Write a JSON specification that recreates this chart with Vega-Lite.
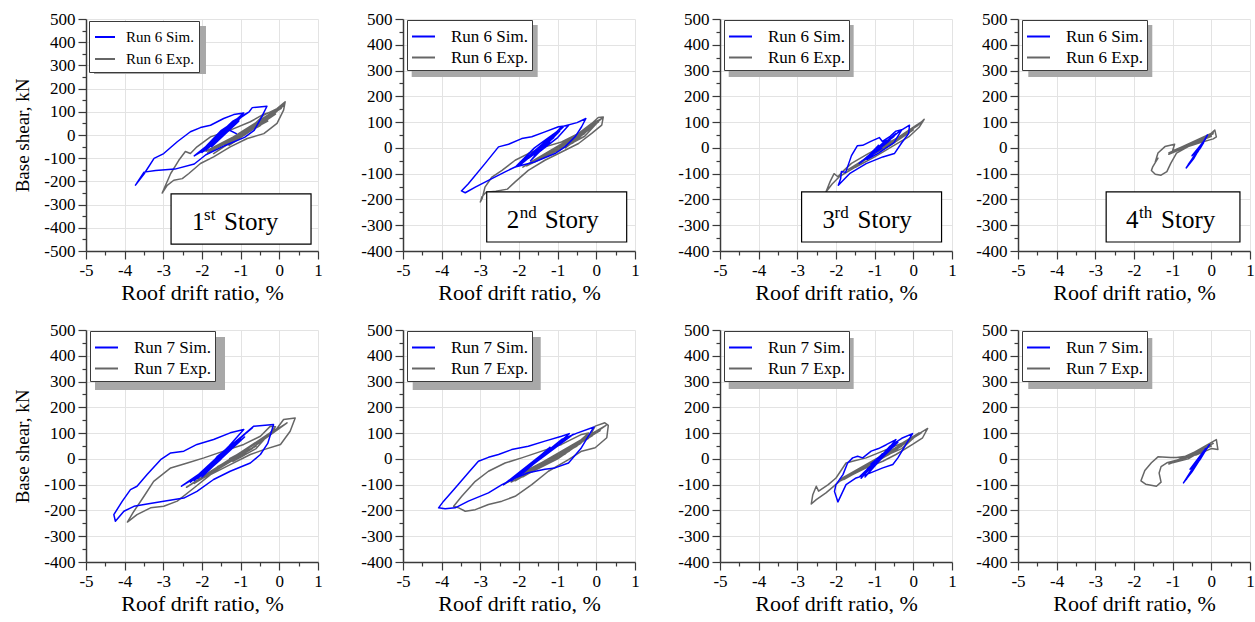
{
  "$schema": "https://vega.github.io/schema/vega-lite/v6.json",
  "background": "white",
  "padding": {"left": 13, "top": 10, "right": 0, "bottom": 0},
  "config": {
    "view": {"stroke": null},
    "font": "Liberation Serif",
    "axis": {"domainColor": "#3a3a3a", "domainWidth": 1.5, "tickColor": "#3a3a3a", "tickWidth": 1.2, "labelFont": "Liberation Serif", "labelFontSize": 17, "labelColor": "#000", "labelPadding": 3, "labelOverlap": false, "titleFont": "Liberation Serif", "titleFontSize": 22, "titleFontWeight": "normal", "titleColor": "#000", "gridColor": "#e3e3e3", "gridWidth": 1, "grid": true},
    "axisX": {"labelFlush": false},
    "axisY": {"titleFontSize": 19, "titlePadding": 11},
    "legend": {"orient": "none", "legendX": 4, "legendY": 1, "fillColor": "white", "strokeColor": "#3a3a3a", "padding": 4, "labelFont": "Liberation Serif", "labelFontSize": 17, "labelColor": "#000", "symbolType": "stroke", "symbolSize": 529, "symbolStrokeWidth": 2, "labelOffset": 15, "rowPadding": 0}
  },
  "datasets": {
    "d1": [
      {"s":"Run 6 Exp.","i":0,"x":-1.1,"y":0},{"s":"Run 6 Exp.","i":1,"x":-0.6,"y":45},{"s":"Run 6 Exp.","i":2,"x":-1.5,"y":-40},{"s":"Run 6 Exp.","i":3,"x":-0.4,"y":70},{"s":"Run 6 Exp.","i":4,"x":-1.7,"y":-60},{"s":"Run 6 Exp.","i":5,"x":-0.1,"y":95},{"s":"Run 6 Exp.","i":6,"x":-1.85,"y":-75},{"s":"Run 6 Exp.","i":7,"x":0.05,"y":115},{"s":"Run 6 Exp.","i":8,"x":-1.3,"y":-20},{"s":"Run 6 Exp.","i":9,"x":0.12,"y":130},{"s":"Run 6 Exp.","i":10,"x":-1.0,"y":0},{"s":"Run 6 Exp.","i":11,"x":-0.3,"y":60},{"s":"Run 6 Exp.","i":12,"x":-1.6,"y":-55},{"s":"Run 6 Exp.","i":13,"x":-0.8,"y":25},{"s":"Run 6 Exp.","i":14,"x":-1.9,"y":-70},{"s":"Run 6 Exp.","i":15,"x":-0.9,"y":5},{"s":"Run 6 Exp.","i":16,"x":-0.4,"y":86},{"s":"Run 6 Exp.","i":17,"x":-0.06,"y":114},{"s":"Run 6 Exp.","i":18,"x":0.15,"y":143},{"s":"Run 6 Exp.","i":19,"x":0.11,"y":107},{"s":"Run 6 Exp.","i":20,"x":-0.06,"y":50},{"s":"Run 6 Exp.","i":21,"x":-0.4,"y":6},{"s":"Run 6 Exp.","i":22,"x":-0.83,"y":-15},{"s":"Run 6 Exp.","i":23,"x":-1.27,"y":-51},{"s":"Run 6 Exp.","i":24,"x":-1.7,"y":-94},{"s":"Run 6 Exp.","i":25,"x":-2.04,"y":-123},{"s":"Run 6 Exp.","i":26,"x":-2.34,"y":-166},{"s":"Run 6 Exp.","i":27,"x":-2.51,"y":-188},{"s":"Run 6 Exp.","i":28,"x":-2.73,"y":-195},{"s":"Run 6 Exp.","i":29,"x":-2.9,"y":-217},{"s":"Run 6 Exp.","i":30,"x":-3.03,"y":-250},{"s":"Run 6 Exp.","i":31,"x":-2.81,"y":-166},{"s":"Run 6 Exp.","i":32,"x":-2.6,"y":-109},{"s":"Run 6 Exp.","i":33,"x":-2.43,"y":-71},{"s":"Run 6 Exp.","i":34,"x":-2.3,"y":-80},{"s":"Run 6 Exp.","i":35,"x":-2.13,"y":-51},{"s":"Run 6 Exp.","i":36,"x":-1.78,"y":-8},{"s":"Run 6 Exp.","i":37,"x":-1.27,"y":21},{"s":"Run 6 Exp.","i":38,"x":-0.75,"y":57},{"s":"Run 6 Exp.","i":39,"x":-0.4,"y":90},{"s":"Run 6 Exp.","i":40,"x":-0.2,"y":100},{"s":"Run 6 Exp.","i":41,"x":0.1,"y":125},{"s":"Run 6 Exp.","i":42,"x":-0.5,"y":40},{"s":"Run 6 Exp.","i":43,"x":-1.2,"y":-20},{"s":"Run 6 Exp.","i":44,"x":-0.7,"y":30},{"s":"Run 6 Exp.","i":45,"x":-1.4,"y":-40},{"s":"Run 6 Exp.","i":46,"x":-0.9,"y":10},{"s":"Run 6 Exp.","i":47,"x":-1.7,"y":-80},{"s":"Run 6 Exp.","i":48,"x":-0.2,"y":85},{"s":"Run 6 Exp.","i":49,"x":-1.5,"y":-40},{"s":"Run 6 Exp.","i":50,"x":0.0,"y":110},{"s":"Run 6 Exp.","i":51,"x":-1.8,"y":-75},{"s":"Run 6 Exp.","i":52,"x":-0.5,"y":60},{"s":"Run 6 Exp.","i":53,"x":-1.3,"y":-45},{"s":"Run 6 Exp.","i":54,"x":-0.1,"y":90},{"s":"Run 6 Exp.","i":55,"x":-1.6,"y":-50},{"s":"Run 6 Exp.","i":56,"x":-0.6,"y":35},{"s":"Run 6 Exp.","i":57,"x":-1.2,"y":-25},{"s":"Run 6 Exp.","i":58,"x":-0.8,"y":10},
      {"s":"Run 6 Sim.","i":0,"x":-1.1,"y":5},{"s":"Run 6 Sim.","i":1,"x":-1.4,"y":30},{"s":"Run 6 Sim.","i":2,"x":-1.7,"y":-30},{"s":"Run 6 Sim.","i":3,"x":-1.25,"y":45},{"s":"Run 6 Sim.","i":4,"x":-1.85,"y":-55},{"s":"Run 6 Sim.","i":5,"x":-1.15,"y":55},{"s":"Run 6 Sim.","i":6,"x":-1.95,"y":-65},{"s":"Run 6 Sim.","i":7,"x":-1.3,"y":30},{"s":"Run 6 Sim.","i":8,"x":-2.0,"y":-75},{"s":"Run 6 Sim.","i":9,"x":-1.05,"y":65},{"s":"Run 6 Sim.","i":10,"x":-1.6,"y":-10},{"s":"Run 6 Sim.","i":11,"x":-2.2,"y":-90},{"s":"Run 6 Sim.","i":12,"x":-1.7,"y":-40},{"s":"Run 6 Sim.","i":13,"x":-1.0,"y":75},{"s":"Run 6 Sim.","i":14,"x":-0.8,"y":98},{"s":"Run 6 Sim.","i":15,"x":-1.5,"y":20},{"s":"Run 6 Sim.","i":16,"x":-1.9,"y":-50},{"s":"Run 6 Sim.","i":17,"x":-1.2,"y":60},{"s":"Run 6 Sim.","i":18,"x":-0.78,"y":100},{"s":"Run 6 Sim.","i":19,"x":-0.7,"y":118},{"s":"Run 6 Sim.","i":20,"x":-0.32,"y":124},{"s":"Run 6 Sim.","i":21,"x":-0.45,"y":80},{"s":"Run 6 Sim.","i":22,"x":-0.65,"y":20},{"s":"Run 6 Sim.","i":23,"x":-0.9,"y":-10},{"s":"Run 6 Sim.","i":24,"x":-1.4,"y":-45},{"s":"Run 6 Sim.","i":25,"x":-1.9,"y":-85},{"s":"Run 6 Sim.","i":26,"x":-2.2,"y":-125},{"s":"Run 6 Sim.","i":27,"x":-2.7,"y":-147},{"s":"Run 6 Sim.","i":28,"x":-3.2,"y":-153},{"s":"Run 6 Sim.","i":29,"x":-3.5,"y":-160},{"s":"Run 6 Sim.","i":30,"x":-3.72,"y":-216},{"s":"Run 6 Sim.","i":31,"x":-3.5,"y":-168},{"s":"Run 6 Sim.","i":32,"x":-3.24,"y":-101},{"s":"Run 6 Sim.","i":33,"x":-2.99,"y":-80},{"s":"Run 6 Sim.","i":34,"x":-2.64,"y":-29},{"s":"Run 6 Sim.","i":35,"x":-2.3,"y":14},{"s":"Run 6 Sim.","i":36,"x":-2.04,"y":32},{"s":"Run 6 Sim.","i":37,"x":-1.78,"y":42},{"s":"Run 6 Sim.","i":38,"x":-1.44,"y":71},{"s":"Run 6 Sim.","i":39,"x":-1.18,"y":88},{"s":"Run 6 Sim.","i":40,"x":-0.92,"y":95},{"s":"Run 6 Sim.","i":41,"x":-1.3,"y":40},{"s":"Run 6 Sim.","i":42,"x":-1.8,"y":-40},{"s":"Run 6 Sim.","i":43,"x":-1.4,"y":20},{"s":"Run 6 Sim.","i":44,"x":-1.9,"y":-60},{"s":"Run 6 Sim.","i":45,"x":-1.5,"y":10},{"s":"Run 6 Sim.","i":46,"x":-1.95,"y":-70},{"s":"Run 6 Sim.","i":47,"x":-1.15,"y":50},{"s":"Run 6 Sim.","i":48,"x":-1.85,"y":-45},{"s":"Run 6 Sim.","i":49,"x":-1.1,"y":65},{"s":"Run 6 Sim.","i":50,"x":-2.05,"y":-75},{"s":"Run 6 Sim.","i":51,"x":-1.25,"y":40},{"s":"Run 6 Sim.","i":52,"x":-1.75,"y":-50},{"s":"Run 6 Sim.","i":53,"x":-1.05,"y":60},{"s":"Run 6 Sim.","i":54,"x":-1.9,"y":-65},{"s":"Run 6 Sim.","i":55,"x":-1.2,"y":50},{"s":"Run 6 Sim.","i":56,"x":-1.65,"y":-35},{"s":"Run 6 Sim.","i":57,"x":-1.35,"y":25},{"s":"Run 6 Sim.","i":58,"x":-1.5,"y":-5}
    ],
    "d2": [
      {"s":"Run 6 Exp.","i":0,"x":-1.0,"y":-5},{"s":"Run 6 Exp.","i":1,"x":-0.5,"y":30},{"s":"Run 6 Exp.","i":2,"x":-1.5,"y":-45},{"s":"Run 6 Exp.","i":3,"x":-0.3,"y":55},{"s":"Run 6 Exp.","i":4,"x":-1.7,"y":-60},{"s":"Run 6 Exp.","i":5,"x":-0.1,"y":80},{"s":"Run 6 Exp.","i":6,"x":-1.9,"y":-75},{"s":"Run 6 Exp.","i":7,"x":0.05,"y":100},{"s":"Run 6 Exp.","i":8,"x":-1.2,"y":-20},{"s":"Run 6 Exp.","i":9,"x":0.15,"y":115},{"s":"Run 6 Exp.","i":10,"x":-0.6,"y":20},{"s":"Run 6 Exp.","i":11,"x":-1.4,"y":-35},{"s":"Run 6 Exp.","i":12,"x":-0.2,"y":70},{"s":"Run 6 Exp.","i":13,"x":-0.8,"y":0},{"s":"Run 6 Exp.","i":14,"x":0.05,"y":118},{"s":"Run 6 Exp.","i":15,"x":0.18,"y":120},{"s":"Run 6 Exp.","i":16,"x":0.14,"y":88},{"s":"Run 6 Exp.","i":17,"x":-0.12,"y":56},{"s":"Run 6 Exp.","i":18,"x":-0.46,"y":17},{"s":"Run 6 Exp.","i":19,"x":-0.9,"y":-16},{"s":"Run 6 Exp.","i":20,"x":-1.33,"y":-48},{"s":"Run 6 Exp.","i":21,"x":-1.76,"y":-87},{"s":"Run 6 Exp.","i":22,"x":-2.1,"y":-132},{"s":"Run 6 Exp.","i":23,"x":-2.3,"y":-160},{"s":"Run 6 Exp.","i":24,"x":-2.6,"y":-168},{"s":"Run 6 Exp.","i":25,"x":-2.85,"y":-172},{"s":"Run 6 Exp.","i":26,"x":-2.96,"y":-190},{"s":"Run 6 Exp.","i":27,"x":-3.0,"y":-210},{"s":"Run 6 Exp.","i":28,"x":-2.95,"y":-195},{"s":"Run 6 Exp.","i":29,"x":-2.88,"y":-152},{"s":"Run 6 Exp.","i":30,"x":-2.7,"y":-113},{"s":"Run 6 Exp.","i":31,"x":-2.44,"y":-87},{"s":"Run 6 Exp.","i":32,"x":-2.1,"y":-48},{"s":"Run 6 Exp.","i":33,"x":-1.76,"y":-22},{"s":"Run 6 Exp.","i":34,"x":-1.33,"y":4},{"s":"Run 6 Exp.","i":35,"x":-0.9,"y":23},{"s":"Run 6 Exp.","i":36,"x":-0.46,"y":56},{"s":"Run 6 Exp.","i":37,"x":-0.12,"y":95},{"s":"Run 6 Exp.","i":38,"x":0.1,"y":110},{"s":"Run 6 Exp.","i":39,"x":-0.3,"y":45},{"s":"Run 6 Exp.","i":40,"x":-1.0,"y":-10},{"s":"Run 6 Exp.","i":41,"x":-1.8,"y":-70},{"s":"Run 6 Exp.","i":42,"x":-0.3,"y":60},{"s":"Run 6 Exp.","i":43,"x":-1.5,"y":-45},{"s":"Run 6 Exp.","i":44,"x":0.0,"y":95},{"s":"Run 6 Exp.","i":45,"x":-1.7,"y":-55},{"s":"Run 6 Exp.","i":46,"x":-0.6,"y":25},{"s":"Run 6 Exp.","i":47,"x":-1.3,"y":-30},{"s":"Run 6 Exp.","i":48,"x":-0.2,"y":70},{"s":"Run 6 Exp.","i":49,"x":-1.0,"y":-15},
      {"s":"Run 6 Sim.","i":0,"x":-1.4,"y":0},{"s":"Run 6 Sim.","i":1,"x":-1.7,"y":-30},{"s":"Run 6 Sim.","i":2,"x":-1.1,"y":40},{"s":"Run 6 Sim.","i":3,"x":-1.85,"y":-50},{"s":"Run 6 Sim.","i":4,"x":-1.05,"y":55},{"s":"Run 6 Sim.","i":5,"x":-1.95,"y":-62},{"s":"Run 6 Sim.","i":6,"x":-1.3,"y":20},{"s":"Run 6 Sim.","i":7,"x":-1.8,"y":-45},{"s":"Run 6 Sim.","i":8,"x":-1.0,"y":65},{"s":"Run 6 Sim.","i":9,"x":-2.05,"y":-70},{"s":"Run 6 Sim.","i":10,"x":-1.5,"y":-10},{"s":"Run 6 Sim.","i":11,"x":-0.85,"y":82},{"s":"Run 6 Sim.","i":12,"x":-1.6,"y":0},{"s":"Run 6 Sim.","i":13,"x":-2.1,"y":-75},{"s":"Run 6 Sim.","i":14,"x":-1.2,"y":35},{"s":"Run 6 Sim.","i":15,"x":-0.9,"y":82},{"s":"Run 6 Sim.","i":16,"x":-0.5,"y":98},{"s":"Run 6 Sim.","i":17,"x":-0.27,"y":114},{"s":"Run 6 Sim.","i":18,"x":-0.38,"y":82},{"s":"Run 6 Sim.","i":19,"x":-0.55,"y":43},{"s":"Run 6 Sim.","i":20,"x":-0.81,"y":4},{"s":"Run 6 Sim.","i":21,"x":-1.07,"y":-22},{"s":"Run 6 Sim.","i":22,"x":-1.6,"y":-55},{"s":"Run 6 Sim.","i":23,"x":-2.1,"y":-74},{"s":"Run 6 Sim.","i":24,"x":-2.36,"y":-93},{"s":"Run 6 Sim.","i":25,"x":-2.79,"y":-126},{"s":"Run 6 Sim.","i":26,"x":-3.13,"y":-152},{"s":"Run 6 Sim.","i":27,"x":-3.39,"y":-174},{"s":"Run 6 Sim.","i":28,"x":-3.49,"y":-167},{"s":"Run 6 Sim.","i":29,"x":-3.31,"y":-139},{"s":"Run 6 Sim.","i":30,"x":-2.88,"y":-61},{"s":"Run 6 Sim.","i":31,"x":-2.53,"y":4},{"s":"Run 6 Sim.","i":32,"x":-2.27,"y":14},{"s":"Run 6 Sim.","i":33,"x":-1.93,"y":36},{"s":"Run 6 Sim.","i":34,"x":-1.67,"y":43},{"s":"Run 6 Sim.","i":35,"x":-1.33,"y":62},{"s":"Run 6 Sim.","i":36,"x":-0.98,"y":82},{"s":"Run 6 Sim.","i":37,"x":-0.72,"y":87},{"s":"Run 6 Sim.","i":38,"x":-1.0,"y":40},{"s":"Run 6 Sim.","i":39,"x":-1.6,"y":-30},{"s":"Run 6 Sim.","i":40,"x":-1.2,"y":20},{"s":"Run 6 Sim.","i":41,"x":-1.75,"y":-40},{"s":"Run 6 Sim.","i":42,"x":-1.35,"y":10},{"s":"Run 6 Sim.","i":43,"x":-1.9,"y":-55},{"s":"Run 6 Sim.","i":44,"x":-1.1,"y":50},{"s":"Run 6 Sim.","i":45,"x":-2.0,"y":-70},{"s":"Run 6 Sim.","i":46,"x":-1.2,"y":30},{"s":"Run 6 Sim.","i":47,"x":-1.8,"y":-40},{"s":"Run 6 Sim.","i":48,"x":-0.95,"y":65},{"s":"Run 6 Sim.","i":49,"x":-1.7,"y":-50},{"s":"Run 6 Sim.","i":50,"x":-1.3,"y":20},{"s":"Run 6 Sim.","i":51,"x":-1.95,"y":-60},{"s":"Run 6 Sim.","i":52,"x":-1.1,"y":45},{"s":"Run 6 Sim.","i":53,"x":-1.5,"y":-20}
    ],
    "d3": [
      {"s":"Run 6 Exp.","i":0,"x":-0.8,"y":0},{"s":"Run 6 Exp.","i":1,"x":-0.3,"y":50},{"s":"Run 6 Exp.","i":2,"x":-1.3,"y":-50},{"s":"Run 6 Exp.","i":3,"x":0.0,"y":75},{"s":"Run 6 Exp.","i":4,"x":-1.6,"y":-80},{"s":"Run 6 Exp.","i":5,"x":0.2,"y":100},{"s":"Run 6 Exp.","i":6,"x":-1.0,"y":-20},{"s":"Run 6 Exp.","i":7,"x":-0.5,"y":30},{"s":"Run 6 Exp.","i":8,"x":-1.4,"y":-60},{"s":"Run 6 Exp.","i":9,"x":0.1,"y":85},{"s":"Run 6 Exp.","i":10,"x":0.28,"y":111},{"s":"Run 6 Exp.","i":11,"x":0.15,"y":80},{"s":"Run 6 Exp.","i":12,"x":-0.1,"y":45},{"s":"Run 6 Exp.","i":13,"x":-0.5,"y":10},{"s":"Run 6 Exp.","i":14,"x":-1.0,"y":-35},{"s":"Run 6 Exp.","i":15,"x":-1.5,"y":-75},{"s":"Run 6 Exp.","i":16,"x":-1.9,"y":-110},{"s":"Run 6 Exp.","i":17,"x":-2.1,"y":-140},{"s":"Run 6 Exp.","i":18,"x":-2.26,"y":-171},{"s":"Run 6 Exp.","i":19,"x":-2.15,"y":-130},{"s":"Run 6 Exp.","i":20,"x":-2.05,"y":-100},{"s":"Run 6 Exp.","i":21,"x":-1.95,"y":-112},{"s":"Run 6 Exp.","i":22,"x":-1.85,"y":-95},{"s":"Run 6 Exp.","i":23,"x":-1.6,"y":-60},{"s":"Run 6 Exp.","i":24,"x":-1.2,"y":-25},{"s":"Run 6 Exp.","i":25,"x":-0.8,"y":8},{"s":"Run 6 Exp.","i":26,"x":-0.4,"y":40},{"s":"Run 6 Exp.","i":27,"x":0.0,"y":70},{"s":"Run 6 Exp.","i":28,"x":-0.6,"y":10},{"s":"Run 6 Exp.","i":29,"x":-1.1,"y":-30},{"s":"Run 6 Exp.","i":30,"x":-0.9,"y":-5},{"s":"Run 6 Exp.","i":31,"x":-1.5,"y":-70},{"s":"Run 6 Exp.","i":32,"x":0.1,"y":90},{"s":"Run 6 Exp.","i":33,"x":-1.2,"y":-40},{"s":"Run 6 Exp.","i":34,"x":-0.2,"y":55},{"s":"Run 6 Exp.","i":35,"x":-1.7,"y":-85},{"s":"Run 6 Exp.","i":36,"x":-0.4,"y":35},{"s":"Run 6 Exp.","i":37,"x":-1.0,"y":-20},
      {"s":"Run 6 Sim.","i":0,"x":-0.8,"y":0},{"s":"Run 6 Sim.","i":1,"x":-1.1,"y":-30},{"s":"Run 6 Sim.","i":2,"x":-0.6,"y":30},{"s":"Run 6 Sim.","i":3,"x":-1.3,"y":-50},{"s":"Run 6 Sim.","i":4,"x":-0.5,"y":45},{"s":"Run 6 Sim.","i":5,"x":-1.2,"y":-35},{"s":"Run 6 Sim.","i":6,"x":-0.7,"y":20},{"s":"Run 6 Sim.","i":7,"x":-1.4,"y":-60},{"s":"Run 6 Sim.","i":8,"x":-0.45,"y":55},{"s":"Run 6 Sim.","i":9,"x":-1.0,"y":-10},{"s":"Run 6 Sim.","i":10,"x":-0.9,"y":10},{"s":"Run 6 Sim.","i":11,"x":-1.25,"y":-45},{"s":"Run 6 Sim.","i":12,"x":-0.6,"y":35},{"s":"Run 6 Sim.","i":13,"x":-0.35,"y":65},{"s":"Run 6 Sim.","i":14,"x":-0.1,"y":88},{"s":"Run 6 Sim.","i":15,"x":-0.12,"y":56},{"s":"Run 6 Sim.","i":16,"x":-0.3,"y":20},{"s":"Run 6 Sim.","i":17,"x":-0.49,"y":-22},{"s":"Run 6 Sim.","i":18,"x":-0.79,"y":-35},{"s":"Run 6 Sim.","i":19,"x":-1.22,"y":-61},{"s":"Run 6 Sim.","i":20,"x":-1.65,"y":-100},{"s":"Run 6 Sim.","i":21,"x":-1.94,"y":-145},{"s":"Run 6 Sim.","i":22,"x":-1.88,"y":-120},{"s":"Run 6 Sim.","i":23,"x":-1.86,"y":-92},{"s":"Run 6 Sim.","i":24,"x":-1.75,"y":-95},{"s":"Run 6 Sim.","i":25,"x":-1.6,"y":-30},{"s":"Run 6 Sim.","i":26,"x":-1.45,"y":8},{"s":"Run 6 Sim.","i":27,"x":-1.31,"y":10},{"s":"Run 6 Sim.","i":28,"x":-1.1,"y":25},{"s":"Run 6 Sim.","i":29,"x":-0.88,"y":40},{"s":"Run 6 Sim.","i":30,"x":-0.8,"y":25},{"s":"Run 6 Sim.","i":31,"x":-0.6,"y":45},{"s":"Run 6 Sim.","i":32,"x":-0.45,"y":65},{"s":"Run 6 Sim.","i":33,"x":-0.3,"y":70},{"s":"Run 6 Sim.","i":34,"x":-0.5,"y":20},{"s":"Run 6 Sim.","i":35,"x":-0.9,"y":-20},{"s":"Run 6 Sim.","i":36,"x":-1.2,"y":-45},{"s":"Run 6 Sim.","i":37,"x":-0.55,"y":40},{"s":"Run 6 Sim.","i":38,"x":-1.35,"y":-55},{"s":"Run 6 Sim.","i":39,"x":-0.7,"y":30},{"s":"Run 6 Sim.","i":40,"x":-1.1,"y":-30},{"s":"Run 6 Sim.","i":41,"x":-0.5,"y":50},{"s":"Run 6 Sim.","i":42,"x":-1.3,"y":-50},{"s":"Run 6 Sim.","i":43,"x":-0.8,"y":15}
    ],
    "d4": [
      {"s":"Run 6 Exp.","i":0,"x":-0.7,"y":0},{"s":"Run 6 Exp.","i":1,"x":-0.3,"y":25},{"s":"Run 6 Exp.","i":2,"x":-1.0,"y":-15},{"s":"Run 6 Exp.","i":3,"x":0.0,"y":45},{"s":"Run 6 Exp.","i":4,"x":-1.1,"y":-25},{"s":"Run 6 Exp.","i":5,"x":-0.2,"y":35},{"s":"Run 6 Exp.","i":6,"x":-0.9,"y":-5},{"s":"Run 6 Exp.","i":7,"x":0.05,"y":55},{"s":"Run 6 Exp.","i":8,"x":-0.5,"y":10},{"s":"Run 6 Exp.","i":9,"x":-1.0,"y":-10},{"s":"Run 6 Exp.","i":10,"x":-0.95,"y":14},{"s":"Run 6 Exp.","i":11,"x":-1.2,"y":5},{"s":"Run 6 Exp.","i":12,"x":-1.38,"y":-20},{"s":"Run 6 Exp.","i":13,"x":-1.45,"y":-55},{"s":"Run 6 Exp.","i":14,"x":-1.38,"y":-40},{"s":"Run 6 Exp.","i":15,"x":-1.52,"y":-75},{"s":"Run 6 Exp.","i":16,"x":-1.55,"y":-88},{"s":"Run 6 Exp.","i":17,"x":-1.45,"y":-102},{"s":"Run 6 Exp.","i":18,"x":-1.3,"y":-106},{"s":"Run 6 Exp.","i":19,"x":-1.15,"y":-92},{"s":"Run 6 Exp.","i":20,"x":-1.05,"y":-60},{"s":"Run 6 Exp.","i":21,"x":-0.9,"y":-20},{"s":"Run 6 Exp.","i":22,"x":-0.6,"y":5},{"s":"Run 6 Exp.","i":23,"x":-0.2,"y":30},{"s":"Run 6 Exp.","i":24,"x":0.09,"y":69},{"s":"Run 6 Exp.","i":25,"x":0.13,"y":43},{"s":"Run 6 Exp.","i":26,"x":0.05,"y":35},{"s":"Run 6 Exp.","i":27,"x":-0.3,"y":20},{"s":"Run 6 Exp.","i":28,"x":-0.7,"y":0},{"s":"Run 6 Exp.","i":29,"x":-1.0,"y":-15},{"s":"Run 6 Exp.","i":30,"x":0.0,"y":50},{"s":"Run 6 Exp.","i":31,"x":-0.9,"y":-10},{"s":"Run 6 Exp.","i":32,"x":-0.2,"y":35},{"s":"Run 6 Exp.","i":33,"x":-1.1,"y":-20},{"s":"Run 6 Exp.","i":34,"x":0.05,"y":60},{"s":"Run 6 Exp.","i":35,"x":-0.6,"y":5},
      {"s":"Run 6 Sim.","i":0,"x":-0.3,"y":0},{"s":"Run 6 Sim.","i":1,"x":-0.5,"y":-30},{"s":"Run 6 Sim.","i":2,"x":-0.2,"y":25},{"s":"Run 6 Sim.","i":3,"x":-0.65,"y":-78},{"s":"Run 6 Sim.","i":4,"x":-0.45,"y":-40},{"s":"Run 6 Sim.","i":5,"x":-0.1,"y":50},{"s":"Run 6 Sim.","i":6,"x":-0.35,"y":-15},{"s":"Run 6 Sim.","i":7,"x":-0.55,"y":-55},{"s":"Run 6 Sim.","i":8,"x":-0.15,"y":35},{"s":"Run 6 Sim.","i":9,"x":-0.4,"y":-25},{"s":"Run 6 Sim.","i":10,"x":-0.25,"y":10},{"s":"Run 6 Sim.","i":11,"x":-0.6,"y":-65},{"s":"Run 6 Sim.","i":12,"x":-0.2,"y":20},{"s":"Run 6 Sim.","i":13,"x":-0.3,"y":-5}
    ],
    "d5": [
      {"s":"Run 7 Exp.","i":0,"x":-1.3,"y":0},{"s":"Run 7 Exp.","i":1,"x":-0.8,"y":40},{"s":"Run 7 Exp.","i":2,"x":-1.8,"y":-50},{"s":"Run 7 Exp.","i":3,"x":-0.5,"y":70},{"s":"Run 7 Exp.","i":4,"x":-2.0,"y":-70},{"s":"Run 7 Exp.","i":5,"x":-0.2,"y":100},{"s":"Run 7 Exp.","i":6,"x":-2.2,"y":-90},{"s":"Run 7 Exp.","i":7,"x":0.0,"y":120},{"s":"Run 7 Exp.","i":8,"x":-2.4,"y":-110},{"s":"Run 7 Exp.","i":9,"x":0.2,"y":140},{"s":"Run 7 Exp.","i":10,"x":-1.0,"y":10},{"s":"Run 7 Exp.","i":11,"x":-1.6,"y":-30},{"s":"Run 7 Exp.","i":12,"x":-0.6,"y":50},{"s":"Run 7 Exp.","i":13,"x":-1.9,"y":-60},{"s":"Run 7 Exp.","i":14,"x":-0.1,"y":110},{"s":"Run 7 Exp.","i":15,"x":0.11,"y":153},{"s":"Run 7 Exp.","i":16,"x":0.41,"y":159},{"s":"Run 7 Exp.","i":17,"x":0.28,"y":107},{"s":"Run 7 Exp.","i":18,"x":0.03,"y":56},{"s":"Run 7 Exp.","i":19,"x":-0.4,"y":36},{"s":"Run 7 Exp.","i":20,"x":-0.75,"y":17},{"s":"Run 7 Exp.","i":21,"x":-1.27,"y":-22},{"s":"Run 7 Exp.","i":22,"x":-1.78,"y":-61},{"s":"Run 7 Exp.","i":23,"x":-2.21,"y":-113},{"s":"Run 7 Exp.","i":24,"x":-2.64,"y":-164},{"s":"Run 7 Exp.","i":25,"x":-2.99,"y":-184},{"s":"Run 7 Exp.","i":26,"x":-3.33,"y":-190},{"s":"Run 7 Exp.","i":27,"x":-3.68,"y":-216},{"s":"Run 7 Exp.","i":28,"x":-3.93,"y":-245},{"s":"Run 7 Exp.","i":29,"x":-3.76,"y":-203},{"s":"Run 7 Exp.","i":30,"x":-3.5,"y":-145},{"s":"Run 7 Exp.","i":31,"x":-3.25,"y":-87},{"s":"Run 7 Exp.","i":32,"x":-2.81,"y":-35},{"s":"Run 7 Exp.","i":33,"x":-2.38,"y":-16},{"s":"Run 7 Exp.","i":34,"x":-1.95,"y":4},{"s":"Run 7 Exp.","i":35,"x":-1.44,"y":30},{"s":"Run 7 Exp.","i":36,"x":-0.92,"y":56},{"s":"Run 7 Exp.","i":37,"x":-0.49,"y":88},{"s":"Run 7 Exp.","i":38,"x":-0.23,"y":127},{"s":"Run 7 Exp.","i":39,"x":-0.1,"y":125},{"s":"Run 7 Exp.","i":40,"x":-0.6,"y":40},{"s":"Run 7 Exp.","i":41,"x":-1.2,"y":-10},{"s":"Run 7 Exp.","i":42,"x":-0.9,"y":15},{"s":"Run 7 Exp.","i":43,"x":-1.4,"y":-20},{"s":"Run 7 Exp.","i":44,"x":-2.0,"y":-75},{"s":"Run 7 Exp.","i":45,"x":-0.4,"y":80},{"s":"Run 7 Exp.","i":46,"x":-1.7,"y":-45},{"s":"Run 7 Exp.","i":47,"x":-0.1,"y":115},{"s":"Run 7 Exp.","i":48,"x":-2.2,"y":-95},{"s":"Run 7 Exp.","i":49,"x":-0.7,"y":40},{"s":"Run 7 Exp.","i":50,"x":-1.5,"y":-25},{"s":"Run 7 Exp.","i":51,"x":0.1,"y":130},{"s":"Run 7 Exp.","i":52,"x":-1.9,"y":-60},{"s":"Run 7 Exp.","i":53,"x":-0.9,"y":20},
      {"s":"Run 7 Sim.","i":0,"x":-1.5,"y":0},{"s":"Run 7 Sim.","i":1,"x":-1.9,"y":-50},{"s":"Run 7 Sim.","i":2,"x":-1.2,"y":50},{"s":"Run 7 Sim.","i":3,"x":-2.1,"y":-75},{"s":"Run 7 Sim.","i":4,"x":-1.0,"y":80},{"s":"Run 7 Sim.","i":5,"x":-2.0,"y":-60},{"s":"Run 7 Sim.","i":6,"x":-1.4,"y":30},{"s":"Run 7 Sim.","i":7,"x":-2.2,"y":-85},{"s":"Run 7 Sim.","i":8,"x":-0.9,"y":95},{"s":"Run 7 Sim.","i":9,"x":-1.7,"y":-20},{"s":"Run 7 Sim.","i":10,"x":-2.53,"y":-106},{"s":"Run 7 Sim.","i":11,"x":-1.8,"y":-40},{"s":"Run 7 Sim.","i":12,"x":-1.1,"y":70},{"s":"Run 7 Sim.","i":13,"x":-0.7,"y":120},{"s":"Run 7 Sim.","i":14,"x":-1.6,"y":10},{"s":"Run 7 Sim.","i":15,"x":-2.0,"y":-70},{"s":"Run 7 Sim.","i":16,"x":-1.3,"y":45},{"s":"Run 7 Sim.","i":17,"x":-0.66,"y":127},{"s":"Run 7 Sim.","i":18,"x":-0.15,"y":133},{"s":"Run 7 Sim.","i":19,"x":-0.3,"y":60},{"s":"Run 7 Sim.","i":20,"x":-0.49,"y":17},{"s":"Run 7 Sim.","i":21,"x":-0.75,"y":-16},{"s":"Run 7 Sim.","i":22,"x":-1.27,"y":-48},{"s":"Run 7 Sim.","i":23,"x":-1.7,"y":-80},{"s":"Run 7 Sim.","i":24,"x":-2.13,"y":-126},{"s":"Run 7 Sim.","i":25,"x":-2.47,"y":-152},{"s":"Run 7 Sim.","i":26,"x":-2.99,"y":-164},{"s":"Run 7 Sim.","i":27,"x":-3.42,"y":-175},{"s":"Run 7 Sim.","i":28,"x":-3.76,"y":-184},{"s":"Run 7 Sim.","i":29,"x":-4.02,"y":-203},{"s":"Run 7 Sim.","i":30,"x":-4.24,"y":-242},{"s":"Run 7 Sim.","i":31,"x":-4.28,"y":-216},{"s":"Run 7 Sim.","i":32,"x":-4.06,"y":-164},{"s":"Run 7 Sim.","i":33,"x":-3.85,"y":-119},{"s":"Run 7 Sim.","i":34,"x":-3.68,"y":-106},{"s":"Run 7 Sim.","i":35,"x":-3.42,"y":-61},{"s":"Run 7 Sim.","i":36,"x":-3.07,"y":-3},{"s":"Run 7 Sim.","i":37,"x":-2.81,"y":23},{"s":"Run 7 Sim.","i":38,"x":-2.47,"y":30},{"s":"Run 7 Sim.","i":39,"x":-2.13,"y":56},{"s":"Run 7 Sim.","i":40,"x":-1.7,"y":75},{"s":"Run 7 Sim.","i":41,"x":-1.27,"y":101},{"s":"Run 7 Sim.","i":42,"x":-0.92,"y":114},{"s":"Run 7 Sim.","i":43,"x":-1.3,"y":50},{"s":"Run 7 Sim.","i":44,"x":-1.9,"y":-40},{"s":"Run 7 Sim.","i":45,"x":-1.5,"y":10},{"s":"Run 7 Sim.","i":46,"x":-2.0,"y":-55},{"s":"Run 7 Sim.","i":47,"x":-1.6,"y":-5},{"s":"Run 7 Sim.","i":48,"x":-2.2,"y":-85},{"s":"Run 7 Sim.","i":49,"x":-1.2,"y":55},{"s":"Run 7 Sim.","i":50,"x":-2.0,"y":-70},{"s":"Run 7 Sim.","i":51,"x":-1.0,"y":75},{"s":"Run 7 Sim.","i":52,"x":-2.3,"y":-90},{"s":"Run 7 Sim.","i":53,"x":-1.4,"y":35},{"s":"Run 7 Sim.","i":54,"x":-1.9,"y":-55},{"s":"Run 7 Sim.","i":55,"x":-0.9,"y":85},{"s":"Run 7 Sim.","i":56,"x":-2.1,"y":-75},{"s":"Run 7 Sim.","i":57,"x":-1.3,"y":45},{"s":"Run 7 Sim.","i":58,"x":-1.8,"y":-40},{"s":"Run 7 Sim.","i":59,"x":-1.5,"y":0}
    ],
    "d6": [
      {"s":"Run 7 Exp.","i":0,"x":-1.2,"y":-10},{"s":"Run 7 Exp.","i":1,"x":-0.7,"y":30},{"s":"Run 7 Exp.","i":2,"x":-1.7,"y":-50},{"s":"Run 7 Exp.","i":3,"x":-0.4,"y":60},{"s":"Run 7 Exp.","i":4,"x":-1.9,"y":-70},{"s":"Run 7 Exp.","i":5,"x":-0.1,"y":90},{"s":"Run 7 Exp.","i":6,"x":-2.1,"y":-85},{"s":"Run 7 Exp.","i":7,"x":0.1,"y":115},{"s":"Run 7 Exp.","i":8,"x":-2.4,"y":-100},{"s":"Run 7 Exp.","i":9,"x":0.25,"y":130},{"s":"Run 7 Exp.","i":10,"x":-1.0,"y":0},{"s":"Run 7 Exp.","i":11,"x":-1.5,"y":-30},{"s":"Run 7 Exp.","i":12,"x":-0.5,"y":50},{"s":"Run 7 Exp.","i":13,"x":-2.0,"y":-60},{"s":"Run 7 Exp.","i":14,"x":-0.2,"y":80},{"s":"Run 7 Exp.","i":15,"x":-0.03,"y":127},{"s":"Run 7 Exp.","i":16,"x":0.22,"y":140},{"s":"Run 7 Exp.","i":17,"x":0.31,"y":130},{"s":"Run 7 Exp.","i":18,"x":0.27,"y":82},{"s":"Run 7 Exp.","i":19,"x":-0.03,"y":43},{"s":"Run 7 Exp.","i":20,"x":-0.38,"y":30},{"s":"Run 7 Exp.","i":21,"x":-0.72,"y":-3},{"s":"Run 7 Exp.","i":22,"x":-1.24,"y":-48},{"s":"Run 7 Exp.","i":23,"x":-1.67,"y":-100},{"s":"Run 7 Exp.","i":24,"x":-2.1,"y":-145},{"s":"Run 7 Exp.","i":25,"x":-2.44,"y":-164},{"s":"Run 7 Exp.","i":26,"x":-2.79,"y":-177},{"s":"Run 7 Exp.","i":27,"x":-3.13,"y":-197},{"s":"Run 7 Exp.","i":28,"x":-3.39,"y":-203},{"s":"Run 7 Exp.","i":29,"x":-3.56,"y":-190},{"s":"Run 7 Exp.","i":30,"x":-3.69,"y":-184},{"s":"Run 7 Exp.","i":31,"x":-3.48,"y":-145},{"s":"Run 7 Exp.","i":32,"x":-3.13,"y":-87},{"s":"Run 7 Exp.","i":33,"x":-2.79,"y":-48},{"s":"Run 7 Exp.","i":34,"x":-2.36,"y":-16},{"s":"Run 7 Exp.","i":35,"x":-1.93,"y":4},{"s":"Run 7 Exp.","i":36,"x":-1.41,"y":30},{"s":"Run 7 Exp.","i":37,"x":-0.9,"y":56},{"s":"Run 7 Exp.","i":38,"x":-0.38,"y":95},{"s":"Run 7 Exp.","i":39,"x":-0.2,"y":100},{"s":"Run 7 Exp.","i":40,"x":-0.8,"y":20},{"s":"Run 7 Exp.","i":41,"x":-1.3,"y":-20},{"s":"Run 7 Exp.","i":42,"x":-1.0,"y":0},{"s":"Run 7 Exp.","i":43,"x":-2.0,"y":-75},{"s":"Run 7 Exp.","i":44,"x":-0.3,"y":80},{"s":"Run 7 Exp.","i":45,"x":-1.6,"y":-40},{"s":"Run 7 Exp.","i":46,"x":0.1,"y":110},{"s":"Run 7 Exp.","i":47,"x":-2.2,"y":-90},{"s":"Run 7 Exp.","i":48,"x":-0.6,"y":45},{"s":"Run 7 Exp.","i":49,"x":-1.4,"y":-25},{"s":"Run 7 Exp.","i":50,"x":-0.1,"y":95},{"s":"Run 7 Exp.","i":51,"x":-1.8,"y":-55},{"s":"Run 7 Exp.","i":52,"x":-0.9,"y":10},
      {"s":"Run 7 Sim.","i":0,"x":-1.5,"y":0},{"s":"Run 7 Sim.","i":1,"x":-1.9,"y":-50},{"s":"Run 7 Sim.","i":2,"x":-1.2,"y":40},{"s":"Run 7 Sim.","i":3,"x":-2.1,"y":-70},{"s":"Run 7 Sim.","i":4,"x":-1.0,"y":60},{"s":"Run 7 Sim.","i":5,"x":-2.2,"y":-80},{"s":"Run 7 Sim.","i":6,"x":-0.8,"y":80},{"s":"Run 7 Sim.","i":7,"x":-1.7,"y":-20},{"s":"Run 7 Sim.","i":8,"x":-2.4,"y":-100},{"s":"Run 7 Sim.","i":9,"x":-1.3,"y":30},{"s":"Run 7 Sim.","i":10,"x":-0.6,"y":95},{"s":"Run 7 Sim.","i":11,"x":-1.8,"y":-40},{"s":"Run 7 Sim.","i":12,"x":-1.1,"y":50},{"s":"Run 7 Sim.","i":13,"x":-2.0,"y":-60},{"s":"Run 7 Sim.","i":14,"x":-0.9,"y":75},{"s":"Run 7 Sim.","i":15,"x":-0.5,"y":100},{"s":"Run 7 Sim.","i":16,"x":-0.06,"y":124},{"s":"Run 7 Sim.","i":17,"x":-0.2,"y":90},{"s":"Run 7 Sim.","i":18,"x":-0.4,"y":40},{"s":"Run 7 Sim.","i":19,"x":-0.72,"y":-16},{"s":"Run 7 Sim.","i":20,"x":-1.07,"y":-35},{"s":"Run 7 Sim.","i":21,"x":-1.33,"y":-40},{"s":"Run 7 Sim.","i":22,"x":-1.76,"y":-54},{"s":"Run 7 Sim.","i":23,"x":-2.1,"y":-74},{"s":"Run 7 Sim.","i":24,"x":-2.44,"y":-100},{"s":"Run 7 Sim.","i":25,"x":-2.79,"y":-132},{"s":"Run 7 Sim.","i":26,"x":-3.31,"y":-164},{"s":"Run 7 Sim.","i":27,"x":-3.65,"y":-190},{"s":"Run 7 Sim.","i":28,"x":-3.91,"y":-193},{"s":"Run 7 Sim.","i":29,"x":-4.08,"y":-190},{"s":"Run 7 Sim.","i":30,"x":-3.95,"y":-164},{"s":"Run 7 Sim.","i":31,"x":-3.65,"y":-113},{"s":"Run 7 Sim.","i":32,"x":-3.31,"y":-54},{"s":"Run 7 Sim.","i":33,"x":-3.05,"y":-9},{"s":"Run 7 Sim.","i":34,"x":-2.79,"y":6},{"s":"Run 7 Sim.","i":35,"x":-2.53,"y":17},{"s":"Run 7 Sim.","i":36,"x":-2.19,"y":36},{"s":"Run 7 Sim.","i":37,"x":-1.76,"y":49},{"s":"Run 7 Sim.","i":38,"x":-1.33,"y":69},{"s":"Run 7 Sim.","i":39,"x":-0.9,"y":88},{"s":"Run 7 Sim.","i":40,"x":-0.7,"y":98},{"s":"Run 7 Sim.","i":41,"x":-1.2,"y":30},{"s":"Run 7 Sim.","i":42,"x":-1.8,"y":-40},{"s":"Run 7 Sim.","i":43,"x":-1.4,"y":10},{"s":"Run 7 Sim.","i":44,"x":-1.9,"y":-50},{"s":"Run 7 Sim.","i":45,"x":-1.5,"y":-5},{"s":"Run 7 Sim.","i":46,"x":-2.2,"y":-85},{"s":"Run 7 Sim.","i":47,"x":-1.2,"y":45},{"s":"Run 7 Sim.","i":48,"x":-2.0,"y":-65},{"s":"Run 7 Sim.","i":49,"x":-0.9,"y":70},{"s":"Run 7 Sim.","i":50,"x":-2.3,"y":-90},{"s":"Run 7 Sim.","i":51,"x":-1.3,"y":30},{"s":"Run 7 Sim.","i":52,"x":-1.9,"y":-55},{"s":"Run 7 Sim.","i":53,"x":-1.0,"y":60},{"s":"Run 7 Sim.","i":54,"x":-2.1,"y":-75},{"s":"Run 7 Sim.","i":55,"x":-1.4,"y":15},{"s":"Run 7 Sim.","i":56,"x":-1.7,"y":-30}
    ],
    "d7": [
      {"s":"Run 7 Exp.","i":0,"x":-0.9,"y":-5},{"s":"Run 7 Exp.","i":1,"x":-0.4,"y":40},{"s":"Run 7 Exp.","i":2,"x":-1.3,"y":-40},{"s":"Run 7 Exp.","i":3,"x":-0.1,"y":70},{"s":"Run 7 Exp.","i":4,"x":-1.6,"y":-60},{"s":"Run 7 Exp.","i":5,"x":0.15,"y":95},{"s":"Run 7 Exp.","i":6,"x":-1.9,"y":-80},{"s":"Run 7 Exp.","i":7,"x":-0.6,"y":20},{"s":"Run 7 Exp.","i":8,"x":-1.2,"y":-30},{"s":"Run 7 Exp.","i":9,"x":0.2,"y":100},{"s":"Run 7 Exp.","i":10,"x":-0.8,"y":10},{"s":"Run 7 Exp.","i":11,"x":0.37,"y":118},{"s":"Run 7 Exp.","i":12,"x":0.24,"y":82},{"s":"Run 7 Exp.","i":13,"x":-0.02,"y":56},{"s":"Run 7 Exp.","i":14,"x":-0.45,"y":17},{"s":"Run 7 Exp.","i":15,"x":-0.79,"y":-9},{"s":"Run 7 Exp.","i":16,"x":-1.22,"y":-35},{"s":"Run 7 Exp.","i":17,"x":-1.57,"y":-61},{"s":"Run 7 Exp.","i":18,"x":-1.91,"y":-87},{"s":"Run 7 Exp.","i":19,"x":-2.26,"y":-132},{"s":"Run 7 Exp.","i":20,"x":-2.51,"y":-158},{"s":"Run 7 Exp.","i":21,"x":-2.64,"y":-175},{"s":"Run 7 Exp.","i":22,"x":-2.6,"y":-139},{"s":"Run 7 Exp.","i":23,"x":-2.51,"y":-106},{"s":"Run 7 Exp.","i":24,"x":-2.45,"y":-125},{"s":"Run 7 Exp.","i":25,"x":-2.2,"y":-100},{"s":"Run 7 Exp.","i":26,"x":-2.0,"y":-74},{"s":"Run 7 Exp.","i":27,"x":-1.74,"y":-16},{"s":"Run 7 Exp.","i":28,"x":-1.57,"y":-9},{"s":"Run 7 Exp.","i":29,"x":-1.22,"y":4},{"s":"Run 7 Exp.","i":30,"x":-0.79,"y":30},{"s":"Run 7 Exp.","i":31,"x":-0.28,"y":62},{"s":"Run 7 Exp.","i":32,"x":0.15,"y":101},{"s":"Run 7 Exp.","i":33,"x":-0.3,"y":40},{"s":"Run 7 Exp.","i":34,"x":-0.9,"y":0},{"s":"Run 7 Exp.","i":35,"x":-1.7,"y":-70},{"s":"Run 7 Exp.","i":36,"x":0.0,"y":80},{"s":"Run 7 Exp.","i":37,"x":-1.4,"y":-45},{"s":"Run 7 Exp.","i":38,"x":-0.3,"y":50},{"s":"Run 7 Exp.","i":39,"x":-1.8,"y":-80},{"s":"Run 7 Exp.","i":40,"x":-0.5,"y":30},{"s":"Run 7 Exp.","i":41,"x":-1.1,"y":-15},
      {"s":"Run 7 Sim.","i":0,"x":-0.9,"y":0},{"s":"Run 7 Sim.","i":1,"x":-1.2,"y":-40},{"s":"Run 7 Sim.","i":2,"x":-0.6,"y":40},{"s":"Run 7 Sim.","i":3,"x":-1.3,"y":-60},{"s":"Run 7 Sim.","i":4,"x":-0.5,"y":55},{"s":"Run 7 Sim.","i":5,"x":-1.1,"y":-20},{"s":"Run 7 Sim.","i":6,"x":-0.7,"y":30},{"s":"Run 7 Sim.","i":7,"x":-1.25,"y":-70},{"s":"Run 7 Sim.","i":8,"x":-0.45,"y":65},{"s":"Run 7 Sim.","i":9,"x":-1.0,"y":-10},{"s":"Run 7 Sim.","i":10,"x":-0.8,"y":20},{"s":"Run 7 Sim.","i":11,"x":-1.35,"y":-75},{"s":"Run 7 Sim.","i":12,"x":-0.6,"y":50},{"s":"Run 7 Sim.","i":13,"x":-0.3,"y":80},{"s":"Run 7 Sim.","i":14,"x":-0.02,"y":98},{"s":"Run 7 Sim.","i":15,"x":-0.19,"y":56},{"s":"Run 7 Sim.","i":16,"x":-0.4,"y":4},{"s":"Run 7 Sim.","i":17,"x":-0.53,"y":-22},{"s":"Run 7 Sim.","i":18,"x":-0.79,"y":-35},{"s":"Run 7 Sim.","i":19,"x":-1.22,"y":-61},{"s":"Run 7 Sim.","i":20,"x":-1.48,"y":-74},{"s":"Run 7 Sim.","i":21,"x":-1.74,"y":-100},{"s":"Run 7 Sim.","i":22,"x":-1.95,"y":-167},{"s":"Run 7 Sim.","i":23,"x":-2.04,"y":-126},{"s":"Run 7 Sim.","i":24,"x":-2.0,"y":-100},{"s":"Run 7 Sim.","i":25,"x":-1.82,"y":-61},{"s":"Run 7 Sim.","i":26,"x":-1.7,"y":-16},{"s":"Run 7 Sim.","i":27,"x":-1.57,"y":4},{"s":"Run 7 Sim.","i":28,"x":-1.44,"y":10},{"s":"Run 7 Sim.","i":29,"x":-1.31,"y":4},{"s":"Run 7 Sim.","i":30,"x":-1.09,"y":30},{"s":"Run 7 Sim.","i":31,"x":-0.9,"y":40},{"s":"Run 7 Sim.","i":32,"x":-0.7,"y":55},{"s":"Run 7 Sim.","i":33,"x":-0.45,"y":75},{"s":"Run 7 Sim.","i":34,"x":-0.8,"y":10},{"s":"Run 7 Sim.","i":35,"x":-1.1,"y":-30},{"s":"Run 7 Sim.","i":36,"x":-0.9,"y":0},{"s":"Run 7 Sim.","i":37,"x":-1.3,"y":-65},{"s":"Run 7 Sim.","i":38,"x":-0.5,"y":55},{"s":"Run 7 Sim.","i":39,"x":-1.2,"y":-50},{"s":"Run 7 Sim.","i":40,"x":-0.6,"y":45},{"s":"Run 7 Sim.","i":41,"x":-1.4,"y":-70},{"s":"Run 7 Sim.","i":42,"x":-0.4,"y":65},{"s":"Run 7 Sim.","i":43,"x":-1.0,"y":-25},{"s":"Run 7 Sim.","i":44,"x":-0.7,"y":35}
    ],
    "d8": [
      {"s":"Run 7 Exp.","i":0,"x":-0.6,"y":0},{"s":"Run 7 Exp.","i":1,"x":-0.2,"y":35},{"s":"Run 7 Exp.","i":2,"x":-1.0,"y":-15},{"s":"Run 7 Exp.","i":3,"x":0.05,"y":60},{"s":"Run 7 Exp.","i":4,"x":-1.1,"y":-20},{"s":"Run 7 Exp.","i":5,"x":-0.3,"y":25},{"s":"Run 7 Exp.","i":6,"x":-0.8,"y":-5},{"s":"Run 7 Exp.","i":7,"x":0.13,"y":75},{"s":"Run 7 Exp.","i":8,"x":0.17,"y":36},{"s":"Run 7 Exp.","i":9,"x":0.0,"y":40},{"s":"Run 7 Exp.","i":10,"x":-0.4,"y":15},{"s":"Run 7 Exp.","i":11,"x":-0.9,"y":5},{"s":"Run 7 Exp.","i":12,"x":-1.05,"y":5},{"s":"Run 7 Exp.","i":13,"x":-1.38,"y":8},{"s":"Run 7 Exp.","i":14,"x":-1.55,"y":-15},{"s":"Run 7 Exp.","i":15,"x":-1.72,"y":-45},{"s":"Run 7 Exp.","i":16,"x":-1.82,"y":-85},{"s":"Run 7 Exp.","i":17,"x":-1.7,"y":-98},{"s":"Run 7 Exp.","i":18,"x":-1.42,"y":-106},{"s":"Run 7 Exp.","i":19,"x":-1.3,"y":-90},{"s":"Run 7 Exp.","i":20,"x":-1.35,"y":-55},{"s":"Run 7 Exp.","i":21,"x":-1.3,"y":-30},{"s":"Run 7 Exp.","i":22,"x":-1.15,"y":-15},{"s":"Run 7 Exp.","i":23,"x":-0.9,"y":-5},{"s":"Run 7 Exp.","i":24,"x":-0.5,"y":10},{"s":"Run 7 Exp.","i":25,"x":-0.6,"y":0},{"s":"Run 7 Exp.","i":26,"x":-1.0,"y":-15},{"s":"Run 7 Exp.","i":27,"x":0.0,"y":50},{"s":"Run 7 Exp.","i":28,"x":-0.9,"y":-10},{"s":"Run 7 Exp.","i":29,"x":-0.2,"y":35},{"s":"Run 7 Exp.","i":30,"x":-1.1,"y":-20},{"s":"Run 7 Exp.","i":31,"x":0.05,"y":60},{"s":"Run 7 Exp.","i":32,"x":-0.6,"y":5},
      {"s":"Run 7 Sim.","i":0,"x":-0.3,"y":0},{"s":"Run 7 Sim.","i":1,"x":-0.55,"y":-40},{"s":"Run 7 Sim.","i":2,"x":-0.2,"y":30},{"s":"Run 7 Sim.","i":3,"x":-0.72,"y":-93},{"s":"Run 7 Sim.","i":4,"x":-0.5,"y":-50},{"s":"Run 7 Sim.","i":5,"x":-0.05,"y":55},{"s":"Run 7 Sim.","i":6,"x":-0.35,"y":-10},{"s":"Run 7 Sim.","i":7,"x":-0.6,"y":-70},{"s":"Run 7 Sim.","i":8,"x":-0.15,"y":40},{"s":"Run 7 Sim.","i":9,"x":-0.45,"y":-30},{"s":"Run 7 Sim.","i":10,"x":-0.25,"y":15},{"s":"Run 7 Sim.","i":11,"x":-0.65,"y":-80},{"s":"Run 7 Sim.","i":12,"x":-0.1,"y":45},{"s":"Run 7 Sim.","i":13,"x":-0.3,"y":-5}
    ]
  },
  "vconcat": [
    {
      "hconcat": [
        {
          "hconcat": [
            {
              "width": 232, "height": 232,
              "resolve": {"axis": {"x": "independent", "y": "independent"}},
              "layer": [
                {"data": {"name": "d1"}, "mark": {"type": "line", "strokeWidth": 1.5, "strokeJoin": "round"},
                 "encoding": {
                   "x": {"field": "x", "type": "quantitative", "scale": {"domain": [-5, 1], "nice": false, "zero": false}, "axis": {"orient": "bottom", "title": "Roof drift ratio, %", "labelOverlap": false, "values": [-5,-4.5,-4,-3.5,-3,-2.5,-2,-1.5,-1,-0.5,0,0.5,1], "labelExpr": "datum.value % 1 === 0 ? '' + datum.value : ''", "tickSize": {"condition": {"test": "datum.value % 1 !== 0", "value": 4}, "value": 8}, "gridOpacity": {"condition": {"test": "datum.value % 1 !== 0", "value": 0}, "value": 1}}},
                   "y": {"field": "y", "type": "quantitative", "scale": {"domain": [-500, 500], "nice": false, "zero": false}, "axis": {"orient": "left", "title": "Base shear, kN", "labelOverlap": false, "values": [-500,-450,-400,-350,-300,-250,-200,-150,-100,-50,0,50,100,150,200,250,300,350,400,450,500], "labelExpr": "datum.value % 100 === 0 ? '' + datum.value : ''", "tickSize": {"condition": {"test": "datum.value % 100 !== 0", "value": 4}, "value": 8}, "gridOpacity": {"condition": {"test": "datum.value % 100 !== 0", "value": 0}, "value": 1}}},
                   "order": {"field": "i", "type": "quantitative"},
                   "color": {"field": "s", "type": "nominal", "scale": {"domain": ["Run 6 Sim.", "Run 6 Exp."], "range": ["#0000ff", "#666666"]}, "legend": {"title": null, "labelFontSize": 15, "symbolSize": 400, "labelOffset": 10, "rowPadding": 3, "padding": 5, "legendX": 3, "legendY": 2}}
                 }},
                {"data": {"values": [{}]}, "mark": {"type": "rect", "fill": "#a8a8a8"}, "encoding": {"x": {"datum": -4.793, "axis": null}, "x2": {"datum": -1.897}, "y": {"datum": 469.8, "axis": null}, "y2": {"datum": 262.9}}},
                {"data": {"values": [{}]}, "mark": {"type": "rect", "fill": "white", "stroke": "black", "strokeWidth": 1.2}, "encoding": {"x": {"datum": -2.8, "axis": null}, "x2": {"datum": 0.82}, "y": {"datum": -470, "axis": null}, "y2": {"datum": -254}}},
                {"data": {"values": [{}]}, "mark": {"type": "text", "text": "1", "font": "Liberation Serif", "fontSize": 25, "align": "left", "baseline": "alphabetic", "dx": -49, "dy": 11}, "encoding": {"x": {"datum": -0.99, "axis": null}, "y": {"datum": -362, "axis": null}}},
                {"data": {"values": [{}]}, "mark": {"type": "text", "text": "st", "font": "Liberation Serif", "fontSize": 17, "align": "left", "baseline": "alphabetic", "dx": -37, "dy": 1}, "encoding": {"x": {"datum": -0.99, "axis": null}, "y": {"datum": -362, "axis": null}}},
                {"data": {"values": [{}]}, "mark": {"type": "text", "text": "Story", "font": "Liberation Serif", "fontSize": 25, "align": "left", "baseline": "alphabetic", "dx": -17, "dy": 11}, "encoding": {"x": {"datum": -0.99, "axis": null}, "y": {"datum": -362, "axis": null}}}
              ]
            },
            {
              "width": 232, "height": 232,
              "resolve": {"axis": {"x": "independent", "y": "independent"}},
              "layer": [
                {"data": {"name": "d2"}, "mark": {"type": "line", "strokeWidth": 1.5, "strokeJoin": "round"},
                 "encoding": {
                   "x": {"field": "x", "type": "quantitative", "scale": {"domain": [-5, 1], "nice": false, "zero": false}, "axis": {"orient": "bottom", "title": "Roof drift ratio, %", "labelOverlap": false, "values": [-5,-4.5,-4,-3.5,-3,-2.5,-2,-1.5,-1,-0.5,0,0.5,1], "labelExpr": "datum.value % 1 === 0 ? '' + datum.value : ''", "tickSize": {"condition": {"test": "datum.value % 1 !== 0", "value": 4}, "value": 8}, "gridOpacity": {"condition": {"test": "datum.value % 1 !== 0", "value": 0}, "value": 1}}},
                   "y": {"field": "y", "type": "quantitative", "scale": {"domain": [-400, 500], "nice": false, "zero": false}, "axis": {"orient": "left", "title": null, "labelOverlap": false, "values": [-400,-350,-300,-250,-200,-150,-100,-50,0,50,100,150,200,250,300,350,400,450,500], "labelExpr": "datum.value % 100 === 0 ? '' + datum.value : ''", "tickSize": {"condition": {"test": "datum.value % 100 !== 0", "value": 4}, "value": 8}, "gridOpacity": {"condition": {"test": "datum.value % 100 !== 0", "value": 0}, "value": 1}}},
                   "order": {"field": "i", "type": "quantitative"},
                   "color": {"field": "s", "type": "nominal", "scale": {"domain": ["Run 6 Sim.", "Run 6 Exp."], "range": ["#0000ff", "#666666"]}, "legend": {"title": null}}
                 }},
                {"data": {"values": [{}]}, "mark": {"type": "rect", "fill": "#a8a8a8"}, "encoding": {"x": {"datum": -4.775, "axis": null}, "x2": {"datum": -1.517}, "y": {"datum": 476.7, "axis": null}, "y2": {"datum": 275}}},
                {"data": {"values": [{}]}, "mark": {"type": "rect", "fill": "white", "stroke": "black", "strokeWidth": 1.2}, "encoding": {"x": {"datum": -2.835, "axis": null}, "x2": {"datum": 0.785}, "y": {"datum": -365, "axis": null}, "y2": {"datum": -171}}},
                {"data": {"values": [{}]}, "mark": {"type": "text", "text": "2", "font": "Liberation Serif", "fontSize": 25, "align": "left", "baseline": "alphabetic", "dx": -50, "dy": 11}, "encoding": {"x": {"datum": -1.025, "axis": null}, "y": {"datum": -268, "axis": null}}},
                {"data": {"values": [{}]}, "mark": {"type": "text", "text": "nd", "font": "Liberation Serif", "fontSize": 17, "align": "left", "baseline": "alphabetic", "dx": -37, "dy": 1}, "encoding": {"x": {"datum": -1.025, "axis": null}, "y": {"datum": -268, "axis": null}}},
                {"data": {"values": [{}]}, "mark": {"type": "text", "text": "Story", "font": "Liberation Serif", "fontSize": 25, "align": "left", "baseline": "alphabetic", "dx": -12, "dy": 11}, "encoding": {"x": {"datum": -1.025, "axis": null}, "y": {"datum": -268, "axis": null}}}
              ]
            },
            {
              "width": 232, "height": 232,
              "resolve": {"axis": {"x": "independent", "y": "independent"}},
              "layer": [
                {"data": {"name": "d3"}, "mark": {"type": "line", "strokeWidth": 1.5, "strokeJoin": "round"},
                 "encoding": {
                   "x": {"field": "x", "type": "quantitative", "scale": {"domain": [-5, 1], "nice": false, "zero": false}, "axis": {"orient": "bottom", "title": "Roof drift ratio, %", "labelOverlap": false, "values": [-5,-4.5,-4,-3.5,-3,-2.5,-2,-1.5,-1,-0.5,0,0.5,1], "labelExpr": "datum.value % 1 === 0 ? '' + datum.value : ''", "tickSize": {"condition": {"test": "datum.value % 1 !== 0", "value": 4}, "value": 8}, "gridOpacity": {"condition": {"test": "datum.value % 1 !== 0", "value": 0}, "value": 1}}},
                   "y": {"field": "y", "type": "quantitative", "scale": {"domain": [-400, 500], "nice": false, "zero": false}, "axis": {"orient": "left", "title": null, "labelOverlap": false, "values": [-400,-350,-300,-250,-200,-150,-100,-50,0,50,100,150,200,250,300,350,400,450,500], "labelExpr": "datum.value % 100 === 0 ? '' + datum.value : ''", "tickSize": {"condition": {"test": "datum.value % 100 !== 0", "value": 4}, "value": 8}, "gridOpacity": {"condition": {"test": "datum.value % 100 !== 0", "value": 0}, "value": 1}}},
                   "order": {"field": "i", "type": "quantitative"},
                   "color": {"field": "s", "type": "nominal", "scale": {"domain": ["Run 6 Sim.", "Run 6 Exp."], "range": ["#0000ff", "#666666"]}, "legend": {"title": null}}
                 }},
                {"data": {"values": [{}]}, "mark": {"type": "rect", "fill": "#a8a8a8"}, "encoding": {"x": {"datum": -4.775, "axis": null}, "x2": {"datum": -1.543}, "y": {"datum": 476.7, "axis": null}, "y2": {"datum": 275}}},
                {"data": {"values": [{}]}, "mark": {"type": "rect", "fill": "white", "stroke": "black", "strokeWidth": 1.2}, "encoding": {"x": {"datum": -2.89, "axis": null}, "x2": {"datum": 0.73}, "y": {"datum": -365, "axis": null}, "y2": {"datum": -171}}},
                {"data": {"values": [{}]}, "mark": {"type": "text", "text": "3", "font": "Liberation Serif", "fontSize": 25, "align": "left", "baseline": "alphabetic", "dx": -49, "dy": 11}, "encoding": {"x": {"datum": -1.08, "axis": null}, "y": {"datum": -268, "axis": null}}},
                {"data": {"values": [{}]}, "mark": {"type": "text", "text": "rd", "font": "Liberation Serif", "fontSize": 17, "align": "left", "baseline": "alphabetic", "dx": -37, "dy": 1}, "encoding": {"x": {"datum": -1.08, "axis": null}, "y": {"datum": -268, "axis": null}}},
                {"data": {"values": [{}]}, "mark": {"type": "text", "text": "Story", "font": "Liberation Serif", "fontSize": 25, "align": "left", "baseline": "alphabetic", "dx": -14, "dy": 11}, "encoding": {"x": {"datum": -1.08, "axis": null}, "y": {"datum": -268, "axis": null}}}
              ]
            }
          ],
          "spacing": 85,
          "bounds": "flush",
          "resolve": {"scale": {"color": "independent"}, "legend": {"color": "independent"}}
        },
        {
          "width": 232, "height": 232,
          "resolve": {"axis": {"x": "independent", "y": "independent"}},
          "layer": [
            {"data": {"name": "d4"}, "mark": {"type": "line", "strokeWidth": 1.5, "strokeJoin": "round"},
             "encoding": {
               "x": {"field": "x", "type": "quantitative", "scale": {"domain": [-5, 1], "nice": false, "zero": false}, "axis": {"orient": "bottom", "title": "Roof drift ratio, %", "labelOverlap": false, "values": [-5,-4.5,-4,-3.5,-3,-2.5,-2,-1.5,-1,-0.5,0,0.5,1], "labelExpr": "datum.value % 1 === 0 ? '' + datum.value : ''", "tickSize": {"condition": {"test": "datum.value % 1 !== 0", "value": 4}, "value": 8}, "gridOpacity": {"condition": {"test": "datum.value % 1 !== 0", "value": 0}, "value": 1}}},
               "y": {"field": "y", "type": "quantitative", "scale": {"domain": [-400, 500], "nice": false, "zero": false}, "axis": {"orient": "left", "title": null, "labelOverlap": false, "values": [-400,-350,-300,-250,-200,-150,-100,-50,0,50,100,150,200,250,300,350,400,450,500], "labelExpr": "datum.value % 100 === 0 ? '' + datum.value : ''", "tickSize": {"condition": {"test": "datum.value % 100 !== 0", "value": 4}, "value": 8}, "gridOpacity": {"condition": {"test": "datum.value % 100 !== 0", "value": 0}, "value": 1}}},
               "order": {"field": "i", "type": "quantitative"},
               "color": {"field": "s", "type": "nominal", "scale": {"domain": ["Run 6 Sim.", "Run 6 Exp."], "range": ["#0000ff", "#666666"]}, "legend": {"title": null}}
             }},
            {"data": {"values": [{}]}, "mark": {"type": "rect", "fill": "#a8a8a8"}, "encoding": {"x": {"datum": -4.734, "axis": null}, "x2": {"datum": -1.527}, "y": {"datum": 476.7, "axis": null}, "y2": {"datum": 275}}},
            {"data": {"values": [{}]}, "mark": {"type": "rect", "fill": "white", "stroke": "black", "strokeWidth": 1.2}, "encoding": {"x": {"datum": -2.72, "axis": null}, "x2": {"datum": 0.74}, "y": {"datum": -365, "axis": null}, "y2": {"datum": -171}}},
            {"data": {"values": [{}]}, "mark": {"type": "text", "text": "4", "font": "Liberation Serif", "fontSize": 25, "align": "left", "baseline": "alphabetic", "dx": -47, "dy": 11}, "encoding": {"x": {"datum": -0.99, "axis": null}, "y": {"datum": -268, "axis": null}}},
            {"data": {"values": [{}]}, "mark": {"type": "text", "text": "th", "font": "Liberation Serif", "fontSize": 17, "align": "left", "baseline": "alphabetic", "dx": -34, "dy": 1}, "encoding": {"x": {"datum": -0.99, "axis": null}, "y": {"datum": -268, "axis": null}}},
            {"data": {"values": [{}]}, "mark": {"type": "text", "text": "Story", "font": "Liberation Serif", "fontSize": 25, "align": "left", "baseline": "alphabetic", "dx": -12, "dy": 11}, "encoding": {"x": {"datum": -0.99, "axis": null}, "y": {"datum": -268, "axis": null}}}
          ]
        }
      ],
      "spacing": 18,
      "align": "each",
      "resolve": {"scale": {"color": "independent"}, "legend": {"color": "independent"}}
    },
    {
      "hconcat": [
        {
          "hconcat": [
            {
              "width": 232, "height": 232,
              "resolve": {"axis": {"x": "independent", "y": "independent"}},
              "layer": [
                {"data": {"name": "d5"}, "mark": {"type": "line", "strokeWidth": 1.5, "strokeJoin": "round"},
                 "encoding": {
                   "x": {"field": "x", "type": "quantitative", "scale": {"domain": [-5, 1], "nice": false, "zero": false}, "axis": {"orient": "bottom", "title": "Roof drift ratio, %", "labelOverlap": false, "values": [-5,-4.5,-4,-3.5,-3,-2.5,-2,-1.5,-1,-0.5,0,0.5,1], "labelExpr": "datum.value % 1 === 0 ? '' + datum.value : ''", "tickSize": {"condition": {"test": "datum.value % 1 !== 0", "value": 4}, "value": 8}, "gridOpacity": {"condition": {"test": "datum.value % 1 !== 0", "value": 0}, "value": 1}}},
                   "y": {"field": "y", "type": "quantitative", "scale": {"domain": [-400, 500], "nice": false, "zero": false}, "axis": {"orient": "left", "title": "Base shear, kN", "labelOverlap": false, "values": [-400,-350,-300,-250,-200,-150,-100,-50,0,50,100,150,200,250,300,350,400,450,500], "labelExpr": "datum.value % 100 === 0 ? '' + datum.value : ''", "tickSize": {"condition": {"test": "datum.value % 100 !== 0", "value": 4}, "value": 8}, "gridOpacity": {"condition": {"test": "datum.value % 100 !== 0", "value": 0}, "value": 1}}},
                   "order": {"field": "i", "type": "quantitative"},
                   "color": {"field": "s", "type": "nominal", "scale": {"domain": ["Run 7 Sim.", "Run 7 Exp."], "range": ["#0000ff", "#666666"]}, "legend": {"title": null}}
                 }},
                {"data": {"values": [{}]}, "mark": {"type": "rect", "fill": "#a8a8a8"}, "encoding": {"x": {"datum": -4.767, "axis": null}, "x2": {"datum": -1.405}, "y": {"datum": 472.8, "axis": null}, "y2": {"datum": 267.3}}}
              ]
            },
            {
              "width": 232, "height": 232,
              "resolve": {"axis": {"x": "independent", "y": "independent"}},
              "layer": [
                {"data": {"name": "d6"}, "mark": {"type": "line", "strokeWidth": 1.5, "strokeJoin": "round"},
                 "encoding": {
                   "x": {"field": "x", "type": "quantitative", "scale": {"domain": [-5, 1], "nice": false, "zero": false}, "axis": {"orient": "bottom", "title": "Roof drift ratio, %", "labelOverlap": false, "values": [-5,-4.5,-4,-3.5,-3,-2.5,-2,-1.5,-1,-0.5,0,0.5,1], "labelExpr": "datum.value % 1 === 0 ? '' + datum.value : ''", "tickSize": {"condition": {"test": "datum.value % 1 !== 0", "value": 4}, "value": 8}, "gridOpacity": {"condition": {"test": "datum.value % 1 !== 0", "value": 0}, "value": 1}}},
                   "y": {"field": "y", "type": "quantitative", "scale": {"domain": [-400, 500], "nice": false, "zero": false}, "axis": {"orient": "left", "title": null, "labelOverlap": false, "values": [-400,-350,-300,-250,-200,-150,-100,-50,0,50,100,150,200,250,300,350,400,450,500], "labelExpr": "datum.value % 100 === 0 ? '' + datum.value : ''", "tickSize": {"condition": {"test": "datum.value % 100 !== 0", "value": 4}, "value": 8}, "gridOpacity": {"condition": {"test": "datum.value % 100 !== 0", "value": 0}, "value": 1}}},
                   "order": {"field": "i", "type": "quantitative"},
                   "color": {"field": "s", "type": "nominal", "scale": {"domain": ["Run 7 Sim.", "Run 7 Exp."], "range": ["#0000ff", "#666666"]}, "legend": {"title": null}}
                 }},
                {"data": {"values": [{}]}, "mark": {"type": "rect", "fill": "#a8a8a8"}, "encoding": {"x": {"datum": -4.749, "axis": null}, "x2": {"datum": -1.438}, "y": {"datum": 472.8, "axis": null}, "y2": {"datum": 267.3}}}
              ]
            },
            {
              "width": 232, "height": 232,
              "resolve": {"axis": {"x": "independent", "y": "independent"}},
              "layer": [
                {"data": {"name": "d7"}, "mark": {"type": "line", "strokeWidth": 1.5, "strokeJoin": "round"},
                 "encoding": {
                   "x": {"field": "x", "type": "quantitative", "scale": {"domain": [-5, 1], "nice": false, "zero": false}, "axis": {"orient": "bottom", "title": "Roof drift ratio, %", "labelOverlap": false, "values": [-5,-4.5,-4,-3.5,-3,-2.5,-2,-1.5,-1,-0.5,0,0.5,1], "labelExpr": "datum.value % 1 === 0 ? '' + datum.value : ''", "tickSize": {"condition": {"test": "datum.value % 1 !== 0", "value": 4}, "value": 8}, "gridOpacity": {"condition": {"test": "datum.value % 1 !== 0", "value": 0}, "value": 1}}},
                   "y": {"field": "y", "type": "quantitative", "scale": {"domain": [-400, 500], "nice": false, "zero": false}, "axis": {"orient": "left", "title": null, "labelOverlap": false, "values": [-400,-350,-300,-250,-200,-150,-100,-50,0,50,100,150,200,250,300,350,400,450,500], "labelExpr": "datum.value % 100 === 0 ? '' + datum.value : ''", "tickSize": {"condition": {"test": "datum.value % 100 !== 0", "value": 4}, "value": 8}, "gridOpacity": {"condition": {"test": "datum.value % 100 !== 0", "value": 0}, "value": 1}}},
                   "order": {"field": "i", "type": "quantitative"},
                   "color": {"field": "s", "type": "nominal", "scale": {"domain": ["Run 7 Sim.", "Run 7 Exp."], "range": ["#0000ff", "#666666"]}, "legend": {"title": null}}
                 }},
                {"data": {"values": [{}]}, "mark": {"type": "rect", "fill": "#a8a8a8"}, "encoding": {"x": {"datum": -4.775, "axis": null}, "x2": {"datum": -1.543}, "y": {"datum": 469, "axis": null}, "y2": {"datum": 271}}}
              ]
            }
          ],
          "spacing": 85,
          "bounds": "flush",
          "resolve": {"scale": {"color": "independent"}, "legend": {"color": "independent"}}
        },
        {
          "width": 232, "height": 232,
          "resolve": {"axis": {"x": "independent", "y": "independent"}},
          "layer": [
            {"data": {"name": "d8"}, "mark": {"type": "line", "strokeWidth": 1.5, "strokeJoin": "round"},
             "encoding": {
               "x": {"field": "x", "type": "quantitative", "scale": {"domain": [-5, 1], "nice": false, "zero": false}, "axis": {"orient": "bottom", "title": "Roof drift ratio, %", "labelOverlap": false, "values": [-5,-4.5,-4,-3.5,-3,-2.5,-2,-1.5,-1,-0.5,0,0.5,1], "labelExpr": "datum.value % 1 === 0 ? '' + datum.value : ''", "tickSize": {"condition": {"test": "datum.value % 1 !== 0", "value": 4}, "value": 8}, "gridOpacity": {"condition": {"test": "datum.value % 1 !== 0", "value": 0}, "value": 1}}},
               "y": {"field": "y", "type": "quantitative", "scale": {"domain": [-400, 500], "nice": false, "zero": false}, "axis": {"orient": "left", "title": null, "labelOverlap": false, "values": [-400,-350,-300,-250,-200,-150,-100,-50,0,50,100,150,200,250,300,350,400,450,500], "labelExpr": "datum.value % 100 === 0 ? '' + datum.value : ''", "tickSize": {"condition": {"test": "datum.value % 100 !== 0", "value": 4}, "value": 8}, "gridOpacity": {"condition": {"test": "datum.value % 100 !== 0", "value": 0}, "value": 1}}},
               "order": {"field": "i", "type": "quantitative"},
               "color": {"field": "s", "type": "nominal", "scale": {"domain": ["Run 7 Sim.", "Run 7 Exp."], "range": ["#0000ff", "#666666"]}, "legend": {"title": null}}
             }},
            {"data": {"values": [{}]}, "mark": {"type": "rect", "fill": "#a8a8a8"}, "encoding": {"x": {"datum": -4.734, "axis": null}, "x2": {"datum": -1.527}, "y": {"datum": 469, "axis": null}, "y2": {"datum": 271}}}
          ]
        }
      ],
      "spacing": 18,
      "align": "each",
      "resolve": {"scale": {"color": "independent"}, "legend": {"color": "independent"}}
    }
  ],
  "spacing": 18,
  "resolve": {"scale": {"color": "independent"}, "legend": {"color": "independent"}}
}
